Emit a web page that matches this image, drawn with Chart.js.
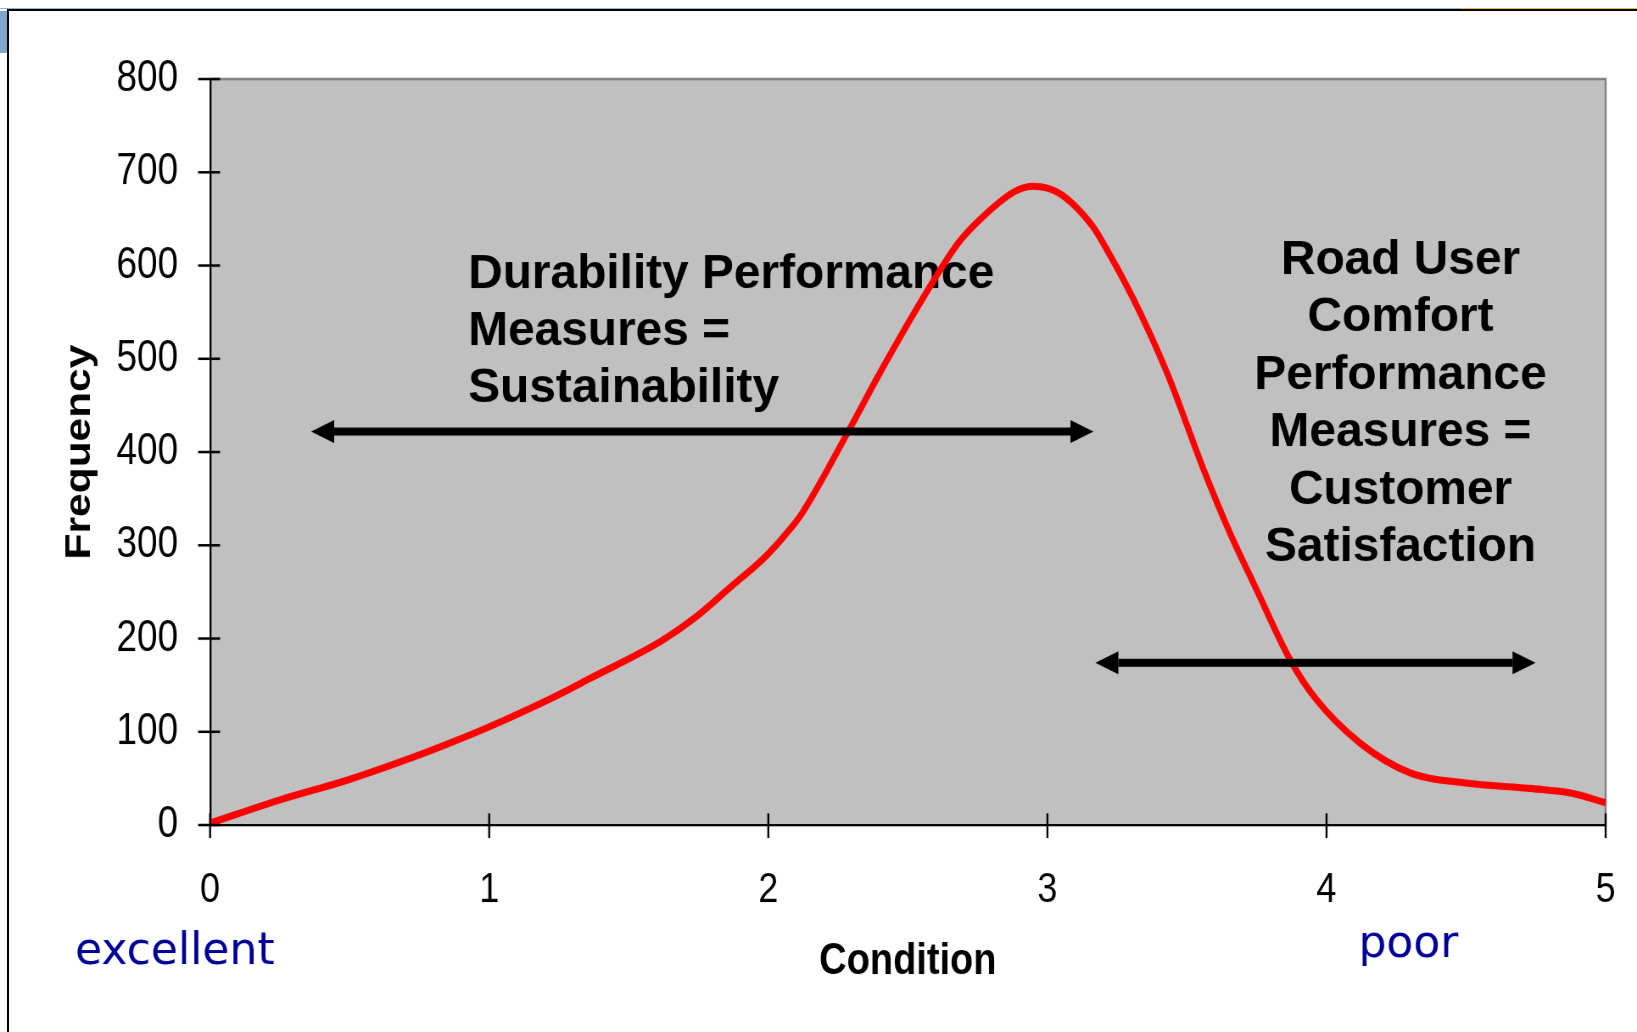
<!DOCTYPE html>
<html lang="en">
<head>
    <meta charset="UTF-8">
    <title>Condition vs Frequency</title>
    <script src="https://cdn.jsdelivr.net/npm/chart.js"></script>
    <style>
        body { margin: 0; background: #fff; overflow: hidden; width: 1637px; height: 1032px; position: relative; }
        /* the chart picture is stretched vertically, like the slide it came from */
        #wrap { position: absolute; left: 0; top: 0; width: 1637px; height: 875px; transform: scaleY(1.17943); transform-origin: 0 0; }
        .deco { position: absolute; z-index: 2; }
    </style>
</head>
<body>
    <div id="wrap"><canvas id="chart"></canvas></div>

    <!-- slide frame bits -->
    <div class="deco" style="left:0;top:8px;width:1460px;height:1px;background:#8fb0d8"></div>
    <div class="deco" style="left:1460px;top:8px;width:177px;height:1px;background:#f2b44a"></div>
    <div class="deco" style="left:7px;top:9px;width:1630px;height:2px;background:#000"></div>
    <div class="deco" style="left:0;top:11px;width:7px;height:42px;background:#7fa5cb"></div>
    <div class="deco" style="left:7px;top:9px;width:2px;height:1023px;background:#000"></div>

    <script>
        const S = 1032 / 875; // vertical stretch of the chart picture

        // curve
        const condition = [0, 0.25, 0.49, 0.73, 0.86, 0.99, 1.23, 1.36, 1.62, 1.74, 1.86, 1.99, 2.06, 2.12, 2.29, 2.40,
            2.55, 2.68, 2.75, 2.88, 2.95, 3.00, 3.06, 3.16, 3.20, 3.31, 3.43, 3.56, 3.65, 3.75, 3.87, 3.96,
            4.12, 4.30, 4.50, 4.74, 4.88, 5.00];
        const frequency = [2, 27, 48, 73, 88, 104, 137, 157, 198, 223, 254, 288, 311, 334, 424, 485,
            563, 624, 647, 679, 685, 683, 674, 643, 624, 563, 484, 381, 316, 252, 177, 136,
            88, 56, 45, 39, 34, 24];

        const xTicks = [0, 1, 2, 3, 4, 5];
        const yTicks = [0, 100, 200, 300, 400, 500, 600, 700, 800];

        // double arrows (condition from / to, frequency level)
        const arrowFrom = [0.362, 3.172];
        const arrowTo = [3.165, 4.749];
        const arrowAt = [422, 174];

        const leftNote = ['Durability Performance', 'Measures =', 'Sustainability'];
        const rightNote = ['Road User', 'Comfort', 'Performance', 'Measures =', 'Customer', 'Satisfaction'];

        function drawArrow(ctx, a, b, py) {
            const head = 23, half = 11.5, shaft = 4;
            ctx.fillRect(a + head, py - shaft, b - a - 2 * head, shaft * 2);
            ctx.beginPath();
            ctx.moveTo(a, py); ctx.lineTo(a + head, py - half); ctx.lineTo(a + head, py + half);
            ctx.closePath(); ctx.fill();
            ctx.beginPath();
            ctx.moveTo(b, py); ctx.lineTo(b - head, py - half); ctx.lineTo(b - head, py + half);
            ctx.closePath(); ctx.fill();
        }

        const extras = {
            id: 'extras',
            beforeDraw(chart) {
                const {ctx, chartArea: a} = chart;
                ctx.save();
                ctx.fillStyle = '#c0c0c0';
                ctx.fillRect(a.left, a.top, a.right - a.left, a.bottom - a.top);
                ctx.strokeStyle = '#808080';
                ctx.lineWidth = 2;
                ctx.beginPath();
                ctx.moveTo(a.left, a.top); ctx.lineTo(a.right, a.top); ctx.lineTo(a.right, a.bottom);
                ctx.stroke();
                ctx.restore();
            },
            beforeDatasetsDraw(chart) {
                // slide text boxes are not stretched: undo the stretch
                const ctx = chart.ctx;
                ctx.save();
                ctx.scale(1, 1 / S);
                ctx.fillStyle = '#000';
                ctx.font = 'bold 47.8px "Liberation Sans", Arial, sans-serif';
                ctx.textAlign = 'left';
                leftNote.forEach((t, i) => ctx.fillText(t, 468, 288 + i * 57));
                ctx.textAlign = 'center';
                rightNote.forEach((t, i) => ctx.fillText(t, 1400, 274 + i * 57.4));
                ctx.fillStyle = '#000099';
                ctx.font = '44px "Comic Sans MS", "DejaVu Sans", sans-serif';
                ctx.textAlign = 'left';
                ctx.fillText('excellent', 75, 964);
                ctx.fillText('poor', 1358, 957);
                ctx.restore();
            },
            afterDatasetsDraw(chart) {
                const {ctx, chartArea: a, scales: {x, y}} = chart;
                ctx.save();
                // tick marks crossing the axes
                ctx.strokeStyle = '#000';
                ctx.lineWidth = 2;
                ctx.beginPath();
                yTicks.forEach(v => {
                    const py = y.getPixelForValue(v);
                    ctx.moveTo(a.left - 12, py); ctx.lineTo(a.left + 10, py);
                });
                xTicks.forEach(v => {
                    const px = x.getPixelForValue(v);
                    ctx.moveTo(px, a.bottom - 10); ctx.lineTo(px, a.bottom + 11);
                });
                ctx.stroke();
                ctx.restore();

                ctx.save();
                ctx.scale(1, 1 / S);
                ctx.fillStyle = '#000';
                arrowFrom.forEach((v, i) => {
                    drawArrow(ctx, x.getPixelForValue(v), x.getPixelForValue(arrowTo[i]), y.getPixelForValue(arrowAt[i]) * S);
                });
                ctx.restore();
            }
        };

        Chart.defaults.font.family = '"Liberation Sans", Arial, sans-serif';
        Chart.defaults.color = '#000';

        new Chart(document.getElementById('chart'), {
            type: 'line',
            data: {
                datasets: [{
                    data: condition.map((c, i) => ({x: c, y: frequency[i]})),
                    borderColor: '#ff0000',
                    borderWidth: 6,
                    pointRadius: 0,
                    cubicInterpolationMode: 'monotone',
                    fill: false
                }]
            },
            options: {
                responsive: true,
                maintainAspectRatio: false,
                devicePixelRatio: S,
                animation: false,
                layout: { padding: { top: 67, right: 32, left: 0, bottom: 0 } },
                plugins: { legend: { display: false }, tooltip: { enabled: false } },
                scales: {
                    x: {
                        type: 'linear',
                        min: 0, max: 5,
                        afterBuildTicks: s => { s.ticks = xTicks.map(v => ({value: v})); },
                        afterFit: s => { s.height = 175.5; s.paddingLeft = 0; s.paddingRight = 0; },
                        grid: { display: true, drawOnChartArea: false, drawTicks: false },
                        border: { color: '#000', width: 2 },
                        ticks: { padding: 34, maxRotation: 0, font: { size: 36 } },
                        title: { display: true, text: 'Condition', font: { size: 38, weight: 'bold' }, padding: { top: 0, bottom: 37 } }
                    },
                    y: {
                        min: 0, max: 800,
                        afterBuildTicks: s => { s.ticks = yTicks.map(v => ({value: v})); },
                        afterFit: s => { s.width = 210; },
                        grid: { display: true, drawOnChartArea: false, drawTicks: false },
                        border: { color: '#000', width: 2 },
                        ticks: { padding: 32, font: { size: 37 } },
                        title: { display: true, text: 'Frequency', font: { size: 36, weight: 'bold' }, padding: { top: 58, bottom: 0 } }
                    }
                }
            },
            plugins: [extras]
        });
    </script>
</body>
</html>
